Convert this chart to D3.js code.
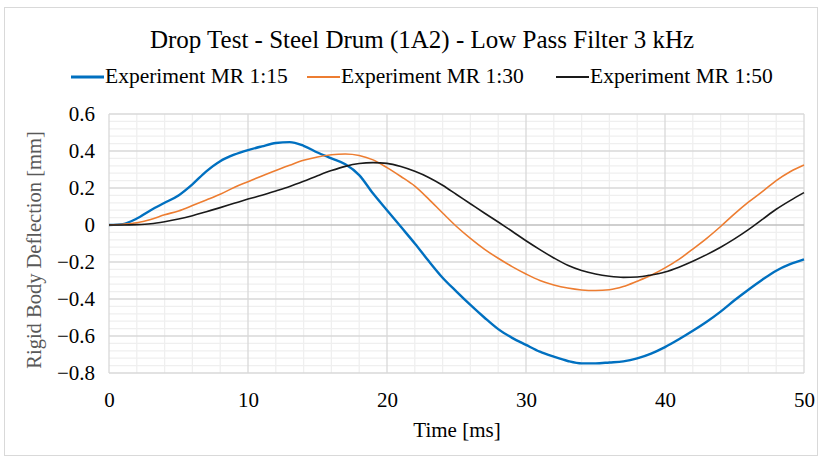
<!DOCTYPE html>
<html><head><meta charset="utf-8">
<script src="https://cdn.jsdelivr.net/npm/d3@7/dist/d3.min.js"></script>
<style>body{margin:0;background:#fff}svg{display:block}text{font-family:"Liberation Serif","Times New Roman",serif}</style>
</head><body><svg id="c" width="822" height="458"></svg>
<script>
const time = d3.range(0, 51);
const mr15 = [0,0.005,0.035,0.08,0.12,0.16,0.22,0.29,0.345,0.38,0.405,0.425,0.443,0.448,0.428,0.392,0.36,0.328,0.27,0.17,0.08,-0.01,-0.1,-0.195,-0.285,-0.36,-0.432,-0.5,-0.563,-0.61,-0.648,-0.685,-0.712,-0.735,-0.748,-0.748,-0.743,-0.737,-0.721,-0.695,-0.66,-0.618,-0.572,-0.523,-0.468,-0.407,-0.35,-0.296,-0.247,-0.212,-0.186];
const mr30 = [0,0.004,0.012,0.03,0.055,0.076,0.105,0.135,0.166,0.203,0.234,0.265,0.295,0.323,0.35,0.368,0.38,0.384,0.376,0.352,0.31,0.262,0.21,0.14,0.065,-0.008,-0.072,-0.13,-0.18,-0.225,-0.265,-0.3,-0.324,-0.341,-0.351,-0.354,-0.35,-0.333,-0.304,-0.272,-0.232,-0.186,-0.13,-0.072,-0.008,0.06,0.123,0.18,0.24,0.288,0.324];
const mr50 = [0,0,0.002,0.007,0.018,0.032,0.05,0.072,0.094,0.117,0.14,0.161,0.184,0.208,0.236,0.266,0.294,0.317,0.332,0.337,0.333,0.316,0.29,0.257,0.215,0.165,0.115,0.065,0.016,-0.034,-0.085,-0.133,-0.178,-0.218,-0.246,-0.265,-0.277,-0.283,-0.281,-0.27,-0.254,-0.228,-0.196,-0.16,-0.12,-0.075,-0.025,0.03,0.085,0.132,0.175];
const seriesNames = ["Experiment MR 1:15","Experiment MR 1:30","Experiment MR 1:50"];
const xTicks = [0,10,20,30,40,50];
const yTicks = [-0.8,-0.6,-0.4,-0.2,0,0.2,0.4,0.6];
const title = "Drop Test - Steel Drum (1A2) - Low Pass Filter 3 kHz";
const xLabel = "Time [ms]";
const yLabel = "Rigid Body Deflection [mm]";

const svg = d3.select("#c");
const L = 109, R = 804, T = 114, B = 373;
const x = d3.scaleLinear().domain([0,50]).range([L,R]);
const y = d3.scaleLinear().domain([-0.8,0.6]).range([B,T]);

svg.append("rect").attr("x",4.5).attr("y",7.5).attr("width",813).attr("height",448).attr("fill","#fff").attr("stroke","#d9d9d9");

const g = svg.append("g");
g.selectAll(".mx").data(d3.range(0,50.01,2).filter(v=>v%10!==0)).join("line")
 .attr("x1",d=>x(d)).attr("x2",d=>x(d)).attr("y1",T).attr("y2",B).attr("stroke","#efefef").attr("stroke-width",1.3);
g.selectAll(".my").data(d3.range(-0.8,0.6001,0.04).filter(v=>Math.abs(Math.round(v*5)-v*5)>1e-6)).join("line")
 .attr("x1",L).attr("x2",R).attr("y1",d=>y(d)).attr("y2",d=>y(d)).attr("stroke","#efefef").attr("stroke-width",1.3);
g.selectAll(".Mx").data(xTicks).join("line")
 .attr("x1",d=>x(d)).attr("x2",d=>x(d)).attr("y1",T).attr("y2",B).attr("stroke","#d9d9d9").attr("stroke-width",1.3);
g.selectAll(".My").data(yTicks).join("line")
 .attr("x1",L).attr("x2",R).attr("y1",d=>y(d)).attr("y2",d=>y(d)).attr("stroke",d=>d===0?"#bfbfbf":"#d9d9d9").attr("stroke-width",d=>d===0?1.6:1.3);

const ax = svg.append("g").attr("transform",`translate(0,${B})`).call(d3.axisBottom(x).tickValues(xTicks).tickSize(0).tickPadding(19).tickFormat(d3.format("d")));
ax.select(".domain").remove();
ax.selectAll("text").attr("font-size",21).attr("fill","#000").attr("font-family","Liberation Serif");
const ay = svg.append("g").attr("transform",`translate(${L},0)`).call(d3.axisLeft(y).tickValues(yTicks).tickSize(0).tickPadding(14).tickFormat(d=>d===0?"0":d3.format(".1f")(d)));
ay.select(".domain").remove();
ay.selectAll("text").attr("font-size",21).attr("fill","#000").attr("font-family","Liberation Serif");

const colors = ["#0070C0","#ED7D31","#1a1a1a"];
const widths = [2.4,1.6,1.6];
const data = [mr15,mr30,mr50];
const line = d3.line().x((d,i)=>x(time[i])).y(d=>y(d)).curve(d3.curveMonotoneX);
data.forEach((s,k)=>{
  svg.append("path").datum(s).attr("d",line).attr("fill","none").attr("stroke",colors[k]).attr("stroke-width",widths[k]).attr("stroke-linejoin","round");
});

svg.append("text").attr("x",422).attr("y",48).attr("text-anchor","middle").attr("font-size",25).attr("fill","#000").text(title);

const legX = [71,307,556];
seriesNames.forEach((n,k)=>{
  svg.append("line").attr("x1",legX[k]).attr("x2",legX[k]+33).attr("y1",77).attr("y2",77).attr("stroke",colors[k]).attr("stroke-width",widths[k]+0.4);
  svg.append("text").attr("x",legX[k]+34).attr("y",83).attr("font-size",21.5).attr("fill","#000").text(n);
});

svg.append("text").attr("x",457).attr("y",437).attr("text-anchor","middle").attr("font-size",21).attr("fill","#000").text(xLabel);
svg.append("text").attr("transform","translate(41,250) rotate(-90)").attr("text-anchor","middle").attr("font-size",20.5).attr("fill","#595959").text(yLabel);
</script></body></html>
